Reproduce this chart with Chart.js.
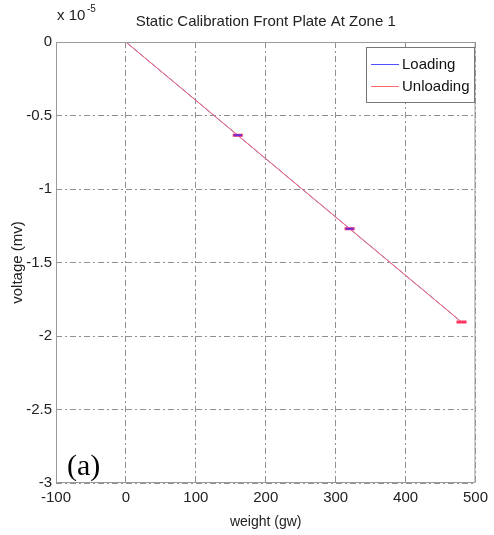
<!DOCTYPE html>
<html><head><meta charset="utf-8">
<script src="https://cdn.jsdelivr.net/npm/chart.js@4/dist/chart.umd.min.js"></script>
<style>html,body{margin:0;padding:0;background:#fff}#wrap{width:494px;height:535px}</style>
</head><body><div id="wrap"><canvas id="c" width="494" height="535"></canvas></div>
<script>
const weights = [0, 160, 320, 480];
const loading = [0, -0.635, -1.27, -1.905];      // x 10^-5 mv
const unloading = [0, -0.635, -1.27, -1.905];    // x 10^-5 mv
const xTicks = [-100, 0, 100, 200, 300, 400, 500];
const yTicks = [0, -0.5, -1, -1.5, -2, -2.5, -3];
const labels = ['Loading', 'Unloading'];
const titleText = 'Static Calibration Front Plate At Zone 1';

const FONT = "'Liberation Sans', Arial, sans-serif";
const toPts = (xs, ys) => xs.map((x, i) => ({x: x, y: ys[i]}));
const markerPts = (xs, ys) => xs.map((x, i) => ({x: x, y: ys[i]})).filter(p => p.x !== 0);

const framePlugin = {
  id: 'frame',
  afterDraw(chart) {
    const {ctx, chartArea: a} = chart;
    ctx.save();
    ctx.strokeStyle = '#9a9a9a';
    ctx.lineWidth = 1;
    ctx.setLineDash([]);
    ctx.strokeRect(a.left + 0.5, a.top + 0.5, a.right - a.left - 1, a.bottom - a.top - 1);
    // title centred over plot area
    ctx.fillStyle = '#222';
    ctx.font = '15px ' + FONT;
    ctx.textAlign = 'center';
    ctx.textBaseline = 'alphabetic';
    ctx.fillText(titleText, (a.left + a.right) / 2, a.top - 16);
    // exponent label
    ctx.textAlign = 'left';
    ctx.fillText('x 10', a.left + 1, a.top - 22);
    ctx.font = '10px ' + FONT;
    ctx.fillText('-5', a.left + 31, a.top - 30);
    // panel label
    ctx.font = '30px "Liberation Serif", "Times New Roman", serif';
    ctx.fillStyle = '#000';
    ctx.fillText('(a)', a.left + 11, a.bottom - 8);
    // legend
    const bx = 366, by = 47, bw = 108, bh = 55;
    ctx.fillStyle = '#fff';
    ctx.fillRect(bx, by, bw, bh);
    ctx.strokeStyle = '#777';
    ctx.strokeRect(bx + 0.5, by + 0.5, bw, bh);
    const ds = chart.data.datasets;
    const items = [ds[1], ds[0]];
    items.forEach((d, i) => {
      const yy = by + 17 + i * 22;
      ctx.strokeStyle = d.borderColor;
      ctx.lineWidth = 1;
      ctx.beginPath(); ctx.moveTo(bx + 5, yy + 0.5); ctx.lineTo(bx + 33, yy + 0.5); ctx.stroke();
      ctx.fillStyle = '#111';
      ctx.font = '15px ' + FONT;
      ctx.textBaseline = 'middle';
      ctx.fillText(d.label, bx + 36, yy + 1);
    });
    ctx.restore();
  }
};

new Chart(document.getElementById('c'), {
  type: 'scatter',
  data: {
    datasets: [
      {label: labels[1], data: toPts(weights, unloading), showLine: true, borderColor: '#ff6a6a', backgroundColor: '#ff6a6a', borderWidth: 1, pointRadius: 0, order: 0},
      {label: labels[0], data: toPts(weights, loading), showLine: true, borderColor: '#5050ff', backgroundColor: '#5050ff', borderWidth: 1, pointRadius: 0, order: 1},
      {label: 'Unloading err', data: markerPts(weights, unloading), showLine: false, pointStyle: 'line', pointRadius: 5, borderColor: '#ff3060', borderWidth: 3, order: 0},
      {label: 'Loading err', data: markerPts(weights, loading).filter(p => p.x < 480), showLine: false, pointStyle: 'line', pointRadius: 4, borderColor: '#6a2adf', borderWidth: 2, order: -1}
    ]
  },
  plugins: [framePlugin],
  options: {
    responsive: false,
    animation: false,
    layout: {padding: {left: 4, right: 18, top: 42, bottom: 4}},
    plugins: {
      legend: {display: false},
      tooltip: {enabled: false},
      title: {display: false}
    },
    scales: {
      x: {
        type: 'linear', min: -100, max: 500,
        afterBuildTicks: s => { s.ticks = xTicks.map(v => ({value: v})); },
        ticks: {color: '#222', font: {family: FONT, size: 15}, padding: 6, maxRotation: 0, callback: v => String(v)},
        grid: {color: '#909090', lineWidth: 1, drawTicks: false},
        border: {display: false, dash: [6, 3, 2, 3]},
        title: {display: true, text: 'weight (gw)', color: '#222', font: {family: FONT, size: 14}, padding: {top: 0, bottom: 0}},
        afterFit: s => { s.height = 48; }
      },
      y: {
        type: 'linear', min: -3, max: 0,
        afterBuildTicks: s => { s.ticks = yTicks.map(v => ({value: v})); },
        ticks: {color: '#222', font: {family: FONT, size: 15}, padding: 4, callback: v => String(v)},
        grid: {color: '#909090', lineWidth: 1, drawTicks: false},
        border: {display: false, dash: [6, 3, 2, 3]},
        title: {display: true, text: 'voltage (mv)', color: '#222', font: {family: FONT, size: 15}, padding: {top: 5, bottom: 0}},
        afterFit: s => { s.width = 52; }
      }
    }
  }
});
</script>
</body></html>
